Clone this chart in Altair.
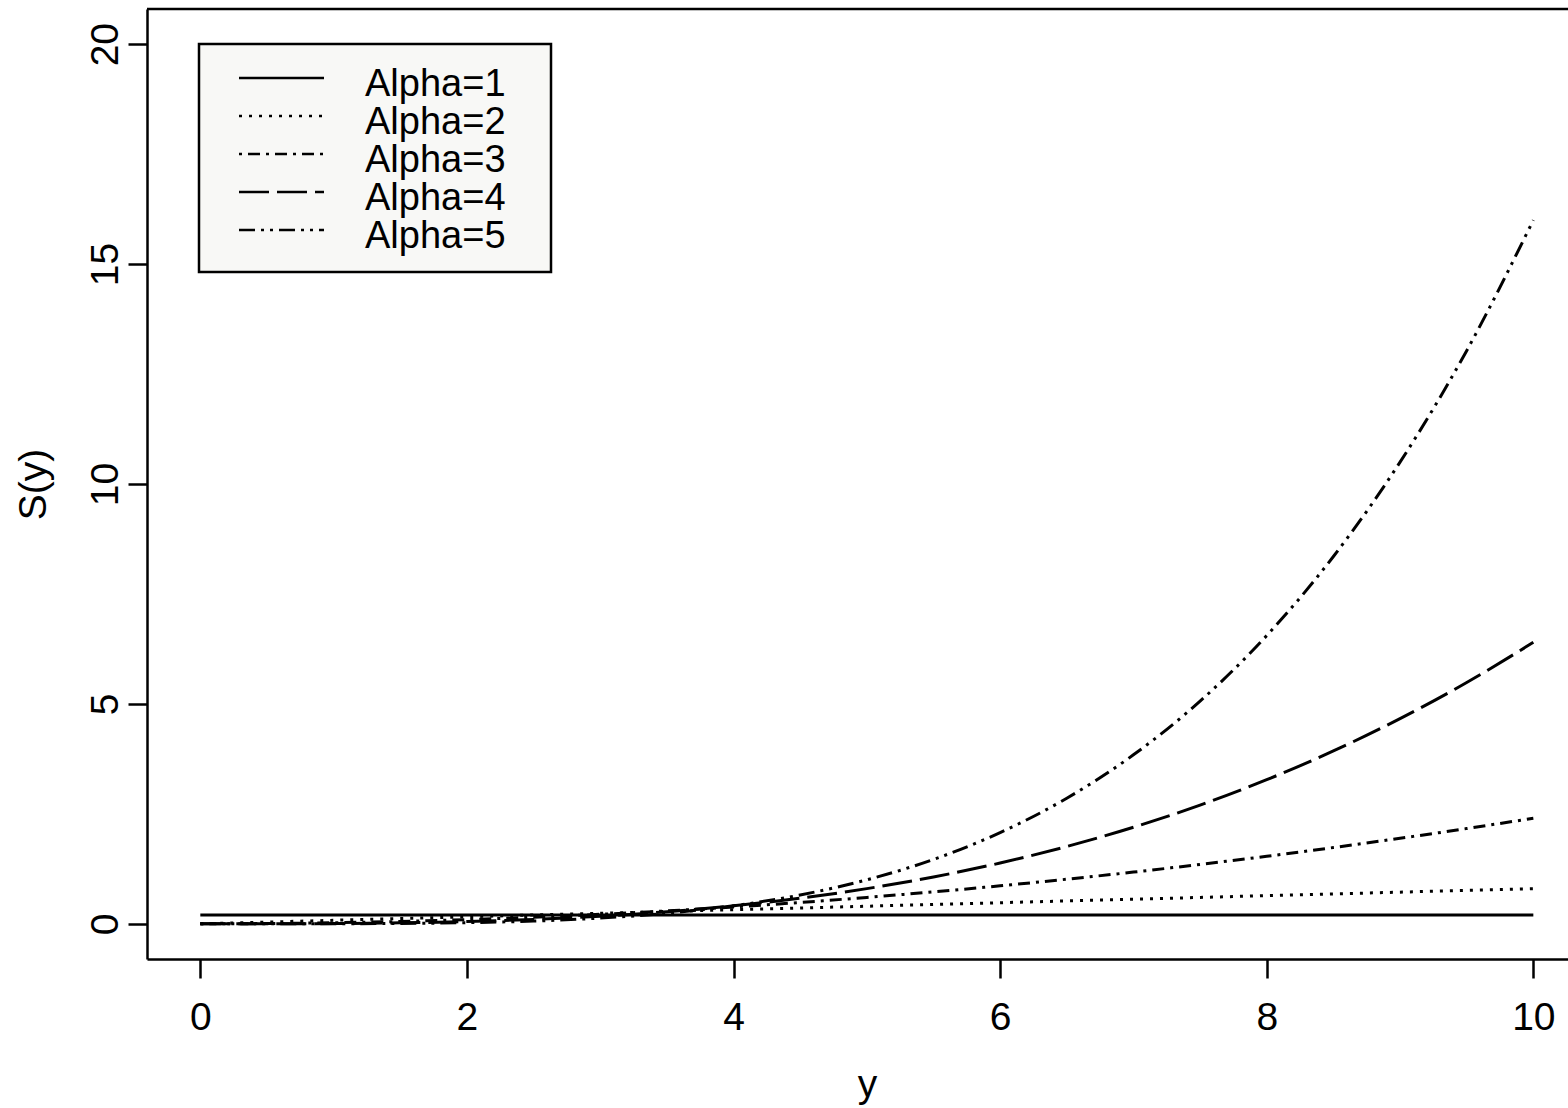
import altair as alt
import pandas as pd

# ---- data ----
y_vals = [0, 0.5, 1, 1.5, 2, 2.5, 3, 3.5, 4, 4.5, 5,
          5.5, 6, 6.5, 7, 7.5, 8, 8.5, 9, 9.5, 10]
s_alpha1 = [0.2, 0.2, 0.2, 0.2, 0.2, 0.2, 0.2, 0.2, 0.2, 0.2, 0.2,
            0.2, 0.2, 0.2, 0.2, 0.2, 0.2, 0.2, 0.2, 0.2, 0.2]
s_alpha2 = [0.0, 0.04, 0.08, 0.12, 0.16, 0.2, 0.24, 0.28, 0.32, 0.36, 0.4,
            0.44, 0.48, 0.52, 0.56, 0.6, 0.64, 0.68, 0.72, 0.76, 0.8]
s_alpha3 = [0.0, 0.006, 0.024, 0.054, 0.096, 0.15, 0.216, 0.294, 0.384, 0.486, 0.6,
            0.726, 0.864, 1.014, 1.176, 1.35, 1.536, 1.734, 1.944, 2.166, 2.4]
s_alpha4 = [0.0, 0.001, 0.006, 0.022, 0.051, 0.1, 0.173, 0.274, 0.41, 0.583, 0.8,
            1.065, 1.382, 1.758, 2.195, 2.7, 3.277, 3.93, 4.666, 5.487, 6.4]
s_alpha5 = [0.0, 0.0001, 0.002, 0.008, 0.026, 0.063, 0.13, 0.24, 0.41, 0.656, 1.0,
            1.464, 2.074, 2.856, 3.842, 5.063, 6.554, 8.352, 10.498, 13.032, 16.0]
series_labels = ["Alpha=1", "Alpha=2", "Alpha=3", "Alpha=4", "Alpha=5"]
x_ticks = [0, 2, 4, 6, 8, 10]
y_ticks = [0, 5, 10, 15, 20]

# ---- styles ----
dash_patterns = [[1, 0], [3, 7], [3, 6, 12, 6], [30, 8], [16, 6, 3, 6, 3, 6]]
FONT = "Liberation Sans"
FS = 39
LEG_FS = 38
LW = 2.5
CURVE_W = 3
PLOT_W = 1421
PLOT_H = 950

rows = []
for lab, vals in zip(series_labels, [s_alpha1, s_alpha2, s_alpha3, s_alpha4, s_alpha5]):
    for xv, sv in zip(y_vals, vals):
        rows.append({"y": xv, "S": sv, "series": lab})
df = pd.DataFrame(rows)
leg = pd.DataFrame({"series": series_labels})
one = pd.DataFrame({"a": [0]})

dash_scale = alt.Scale(domain=series_labels, range=dash_patterns)
leg_y_scale = alt.Scale(type="point", domain=series_labels, range=[69, 221], padding=0)

lines = alt.Chart(df).mark_line(color="black", strokeWidth=CURVE_W, interpolate="monotone").encode(
    x=alt.X("y:Q",
            scale=alt.Scale(domain=[-0.4, 10.26], nice=False, zero=False),
            axis=alt.Axis(values=x_ticks, format="d", title="y", grid=False,
                          domainColor="black", domainWidth=LW,
                          tickColor="black", tickWidth=LW, tickSize=19,
                          labelFont=FONT, labelFontSize=FS, labelColor="black",
                          labelPadding=20, labelFlush=False, labelOverlap=False,
                          labelAngle=0, labelBaseline="top", labelAlign="center",
                          titleFont=FONT, titleFontSize=FS, titleFontWeight="normal",
                          titleColor="black", titleX=720, titleY=137,
                          titleAlign="center", titleBaseline="alphabetic", titleAngle=0)),
    y=alt.Y("S:Q",
            scale=alt.Scale(domain=[-0.8, 20.8], nice=False, zero=False),
            axis=alt.Axis(values=y_ticks, format="d", title="S(y)", grid=False,
                          domainColor="black", domainWidth=LW,
                          tickColor="black", tickWidth=LW, tickSize=19,
                          labelFont=FONT, labelFontSize=FS, labelColor="black",
                          labelPadding=11, labelFlush=False, labelOverlap=False,
                          labelAngle=270, labelAlign="center", labelBaseline="alphabetic",
                          titleFont=FONT, titleFontSize=FS, titleFontWeight="normal",
                          titleColor="black", titleX=-102, titleY=475,
                          titleAlign="center", titleBaseline="alphabetic", titleAngle=270)),
    strokeDash=alt.StrokeDash("series:N", scale=dash_scale, legend=None),
    detail="series:N",
)

top_rule = alt.Chart(one).mark_rule(color="black", strokeWidth=LW).encode(
    x=alt.value(0), x2=alt.value(PLOT_W), y=alt.value(0)
)

leg_box = alt.Chart(one).mark_rect(fill="#f8f8f6", stroke="black", strokeWidth=LW).encode(
    x=alt.value(52), x2=alt.value(404), y=alt.value(35), y2=alt.value(263)
)

leg_rules = alt.Chart(leg).mark_rule(color="black", strokeWidth=LW).encode(
    x=alt.value(92), x2=alt.value(177),
    y=alt.Y("series:N", scale=leg_y_scale, axis=None),
    strokeDash=alt.StrokeDash("series:N", scale=dash_scale, legend=None),
)

leg_text = alt.Chart(leg).mark_text(align="left", baseline="alphabetic", dy=18,
                                    font=FONT, fontSize=LEG_FS, color="black").encode(
    x=alt.value(218),
    y=alt.Y("series:N", scale=leg_y_scale, axis=None),
    text="series:N",
)

chart = alt.layer(lines, top_rule, leg_box, leg_rules, leg_text).resolve_scale(
    y="independent"
).properties(
    width=PLOT_W, height=PLOT_H,
    autosize=alt.AutoSizeParams(type="none"),
    padding={"left": 147, "top": 9, "right": 0, "bottom": 149},
    background="white",
).configure_view(stroke=None)

chart.save("out.html", embed_options={"renderer": "svg", "actions": False})
